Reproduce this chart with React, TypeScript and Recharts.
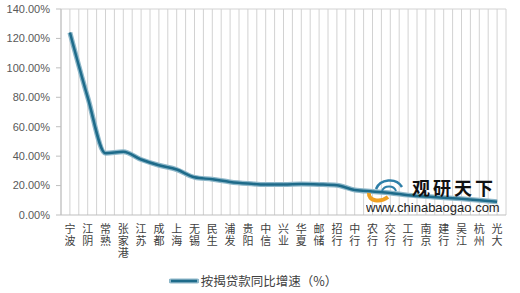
import {
  ComposedChart,
  Line,
  XAxis,
  YAxis,
  CartesianGrid,
  Legend,
} from 'recharts';

const cities = [
  '宁波', '江阴', '常熟', '张家港', '江苏', '成都', '上海', '无锡', '民生',
  '浦发', '贵阳', '中信', '兴业', '华夏', '邮储', '招行', '中行', '农行',
  '交行', '工行', '南京', '建行', '吴江', '杭州', '光大',
];
const growth = [
  124, 80, 42, 43, 37.7, 33.8, 30.9, 25.6, 24.3, 22.5, 21.4, 20.7, 20.7,
  21.1, 20.8, 20.2, 17, 16, 15, 13.5, 12.5, 11.8, 11, 10, 9,
];
const yTicks = [0, 20, 40, 60, 80, 100, 120, 140];
const seriesName = '按揭贷款同比增速（%）';

const data = cities.map((name, i) => ({ name, value: growth[i] }));

// category labels are stacked top to bottom, glyphs upright
const VerticalTick = (props: any) => {
  const { x, y, payload } = props;
  return (
    <text
      x={x}
      y={y + 8}
      fontSize={11}
      fill="#404040"
      fontFamily="'Noto Sans CJK SC'"
      letterSpacing={1}
      style={{ writingMode: 'vertical-rl', textOrientation: 'upright' } as any}
    >
      {payload.value}
    </text>
  );
};

const LegendContent = () => (
  <div
    style={{
      display: 'flex',
      justifyContent: 'center',
      alignItems: 'center',
      fontFamily: "'Noto Sans CJK SC'",
      fontSize: 12.5,
      color: '#404040',
      marginTop: 8,
      gap: 2,
    }}
  >
    <svg width={30} height={8}>
      <line x1={2} y1={4} x2={28} y2={4} stroke="#8DB7C9" strokeWidth={5} strokeLinecap="round" />
      <line x1={2} y1={4} x2={28} y2={4} stroke="#1E6B8A" strokeWidth={2.5} />
    </svg>
    <span>{seriesName}</span>
  </div>
);

const App = () => {
  return (
    <div style={{ position: 'absolute', left: 0, top: 0, width: 520, height: 293, background: '#fff' }}>
      <ComposedChart
        width={520}
        height={293}
        data={data}
        margin={{ top: 9, right: 14, bottom: 0, left: 0 }}
      >
        <CartesianGrid
          horizontal={false}
          stroke="#D2D2D2"
          verticalCoordinatesGenerator={({ offset }: any) =>
            Array.from({ length: 51 }, (_, i) => offset.left + (offset.width * i) / 50)
          }
        />
        <CartesianGrid
          vertical={false}
          stroke="#D2D2D2"
          horizontalCoordinatesGenerator={({ offset }: any) => [offset.top]}
        />
        <XAxis
          dataKey="name"
          scale="band"
          interval={0}
          tickLine={false}
          tickSize={0}
          tickMargin={0}
          axisLine={{ stroke: '#BFBFBF' }}
          tick={<VerticalTick />}
          height={48}
        />
        <YAxis
          domain={[0, 140]}
          ticks={yTicks}
          width={61}
          tickFormatter={(v: number) => `${v.toFixed(2)}%`}
          tick={{ fontSize: 11, fill: '#595959', fontFamily: "'Liberation Sans'" }}
          tickSize={5}
          tickMargin={6}
          tickLine={{ stroke: '#BFBFBF' }}
          axisLine={{ stroke: '#BFBFBF' }}
        />
        <Legend verticalAlign="bottom" height={30} content={<LegendContent />} />
        <Line
          type="monotone"
          dataKey="value"
          stroke="#8DB7C9"
          strokeWidth={5}
          dot={false}
          legendType="none"
          isAnimationActive={false}
        />
        <Line
          type="monotone"
          dataKey="value"
          name={seriesName}
          stroke="#1E6B8A"
          strokeWidth={2.5}
          dot={false}
          isAnimationActive={false}
        />
      </ComposedChart>
      <div
        style={{
          position: 'absolute',
          left: 366,
          top: 175,
          width: 140,
          height: 40,
          pointerEvents: 'none',
        }}
      >
        <svg width={140} height={40} style={{ position: 'absolute', left: 0, top: 0 }}>
          <path d="M10 14 C14 4, 30 2, 36 12" fill="none" stroke="#2E7FA8" strokeWidth={2.5} />
          <path d="M16 16 C18 10, 28 10, 30 16" fill="none" stroke="#2E7FA8" strokeWidth={2} />
          <path d="M3 18 C2 26, 14 28, 22 22" fill="none" stroke="#F0A020" strokeWidth={4} />
          <text x={46} y={20} fontSize={18} fontWeight="bold" fill="#111" fontFamily="'Noto Sans CJK SC'" letterSpacing={3}>
            观研天下
          </text>
          <text x={0} y={37} fontSize={13} fill="#222" fontFamily="'Liberation Sans'">
            www.chinabaogao.com
          </text>
        </svg>
      </div>
    </div>
  );
};

export default App;
